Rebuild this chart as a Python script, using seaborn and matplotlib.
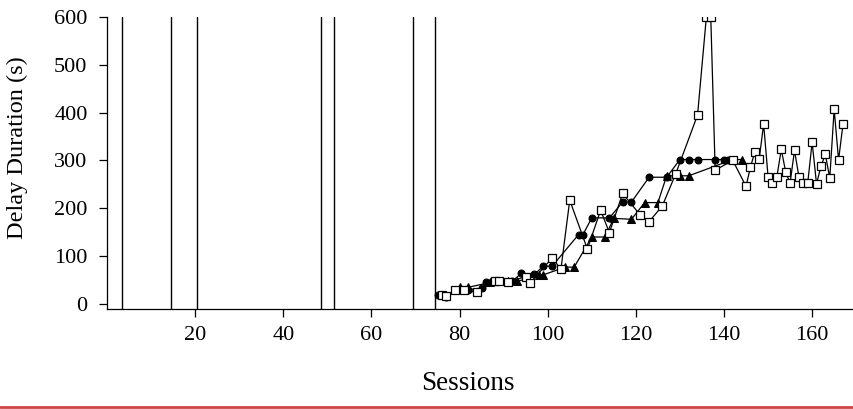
import matplotlib
matplotlib.use("Agg")
import matplotlib.pyplot as plt
import seaborn as sns
import pandas as pd
from matplotlib.lines import Line2D

# ---- data ----
phase_lines = [3.5, 14.5, 20.5, 48.5, 51.5, 69.5, 74.5]

circle_sessions = [75, 77, 80, 82, 85, 86, 89, 92, 94, 97, 99, 101, 107, 108, 110, 114, 117, 119,
                   123, 127, 130, 132, 134, 138, 140, 141]
circle_delay = [18, 15, 32, 30, 33, 46, 47, 48, 64, 62, 79, 79, 145, 145, 180, 180, 213, 213,
                265, 265, 302, 302, 302, 302, 302, 302]

triangle_sessions = [80, 82, 87, 91, 93, 98, 99, 104, 106, 110, 113, 115, 119, 122, 125, 127,
                     130, 132, 142, 144]
triangle_delay = [36, 35, 45, 48, 47, 60, 61, 77, 77, 140, 140, 179, 177, 212, 212, 268,
                  268, 268, 302, 302]

square_sessions = [76, 77, 79, 81, 84, 88, 89, 91, 95, 96, 101, 103, 105, 109, 112, 114, 117,
                   121, 123, 126, 129, 134, 136, 137, 138, 142,
                   145, 146, 147, 148, 149, 150, 151, 152, 153, 154, 155, 156, 157, 158, 159,
                   160, 161, 162, 163, 164, 165, 166, 167]
square_delay = [19, 16, 29, 29, 24, 48, 47, 46, 57, 44, 96, 73, 217, 115, 196, 149, 231,
                186, 172, 205, 271, 395, 600, 600, 280, 300,
                246, 286, 318, 304, 376, 266, 253, 266, 323, 276, 253, 321, 266, 253, 253,
                338, 251, 288, 313, 263, 407, 301, 376]

x_ticks = [20, 40, 60, 80, 100, 120, 140, 160]
y_ticks = [0, 100, 200, 300, 400, 500, 600]

# ---- style ----
sns.set_style("ticks")
plt.rcParams['font.family'] = ['Liberation Serif', 'DejaVu Serif']
plt.rcParams['text.color'] = 'black'
plt.rcParams['axes.labelcolor'] = 'black'
plt.rcParams['xtick.color'] = 'black'
plt.rcParams['ytick.color'] = 'black'

fig = plt.figure(figsize=(8.54, 4.09), dpi=100)
ax = fig.add_axes([107/854, 1 - 309/409, (854 - 107)/854, (309 - 17)/409])

for xv in phase_lines:
    ax.axvline(xv, color='black', lw=1.0, zorder=1)

df_c = pd.DataFrame({'s': circle_sessions, 'd': circle_delay})
df_t = pd.DataFrame({'s': triangle_sessions, 'd': triangle_delay})
df_q = pd.DataFrame({'s': square_sessions, 'd': square_delay})

sns.lineplot(data=df_c, x='s', y='d', ax=ax, color='black', lw=0.9, marker='o',
             markersize=5, markerfacecolor='black', markeredgecolor='black',
             estimator=None, sort=False, zorder=3)
sns.lineplot(data=df_t, x='s', y='d', ax=ax, color='black', lw=0.9, marker='^',
             markersize=6, markerfacecolor='black', markeredgecolor='black',
             estimator=None, sort=False, zorder=3)
sns.lineplot(data=df_q, x='s', y='d', ax=ax, color='black', lw=0.9, marker='s',
             markersize=6, markerfacecolor='white', markeredgecolor='black',
             markeredgewidth=0.9, estimator=None, sort=False, zorder=4)

ax.set_xlim(0, 169.5)
ax.set_ylim(-10.5, 600)
ax.set_xticks(x_ticks)
ax.set_yticks(y_ticks)
ax.tick_params(axis='both', labelsize=16, length=6, width=0.9, color='black', labelcolor='black')
ax.tick_params(axis='y', pad=8)
ax.tick_params(axis='x', pad=6)

for sp in ['top', 'right']:
    ax.spines[sp].set_visible(False)
for sp in ['left', 'bottom']:
    ax.spines[sp].set_color('black')
    ax.spines[sp].set_linewidth(0.9)

ax.set_xlabel('Sessions', fontsize=19.5, color='black')
ax.set_ylabel('Delay Duration (s)', fontsize=17.5, color='black')
ax.xaxis.set_label_coords((468 - 107) / 747, (309 - 383) / 292)
ax.xaxis.label.set_va('center')
ax.yaxis.set_label_coords((17 - 107) / 747, (309 - 148) / 292)
ax.yaxis.label.set_va('center')

fig.add_artist(Line2D([0, 1], [1 - 407/409, 1 - 407/409], transform=fig.transFigure,
                      color='#cc4444', lw=2))

fig.savefig('out.png', dpi=100)
